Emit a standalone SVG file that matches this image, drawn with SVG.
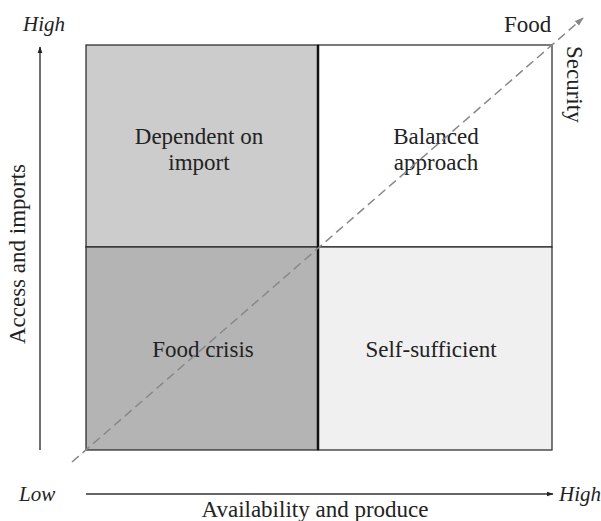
<svg xmlns="http://www.w3.org/2000/svg" width="601" height="521" viewBox="0 0 601 521">
<defs>
<style>
text{font-family:"Liberation Serif","Times New Roman",serif;fill:#222;}
.lbl{font-size:23px;text-anchor:middle;}
.ax{font-size:23px;}
.it{font-size:21px;font-style:italic;}
.cell{stroke:#222;stroke-width:1.2;}
.axis{stroke:#333;stroke-width:1.4;fill:none;}
</style>
<marker id="ah" viewBox="0 0 10 10" refX="9" refY="5" markerWidth="7" markerHeight="7" orient="auto" markerUnits="userSpaceOnUse"><path d="M0,1.5 L10,5 L0,8.5 Z" fill="#222"/></marker>
<marker id="ahg" viewBox="0 0 10 10" refX="9" refY="5" markerWidth="9" markerHeight="9" orient="auto" markerUnits="userSpaceOnUse"><path d="M0,1.5 L10,5 L0,8.5 Z" fill="#888"/></marker>
</defs>
<rect width="601" height="521" fill="#fff"/>
<g id="q-dependent"><rect class="cell" x="86" y="45" width="232" height="202" fill="#cccccc"/><text class="lbl" x="199" y="144">Dependent on</text><text class="lbl" x="199" y="170">import</text></g>
<g id="q-balanced"><rect class="cell" x="318" y="45" width="234" height="202" fill="#ffffff"/><text class="lbl" x="436" y="144">Balanced</text><text class="lbl" x="436" y="170">approach</text></g>
<g id="q-crisis"><rect class="cell" x="86" y="247" width="232" height="203" fill="#b4b4b4"/><text class="lbl" x="203" y="357">Food crisis</text></g>
<g id="q-self"><rect class="cell" x="318" y="247" width="234" height="203" fill="#f0f0f0"/><text class="lbl" x="431" y="357">Self-sufficient</text></g>
<g id="connectors">
<line x1="318" y1="45" x2="318" y2="450" stroke="#111" stroke-width="2.5"/>
<line x1="72" y1="462" x2="583" y2="18" stroke="#888" stroke-width="1.5" stroke-dasharray="9,5" marker-end="url(#ahg)"/>
<line class="axis" x1="40" y1="450" x2="40" y2="47" marker-end="url(#ah)"/>
<line class="axis" x1="86" y1="494" x2="553" y2="494" marker-end="url(#ah)"/>
</g>
<g id="labels">
<text class="it" x="23" y="31">High</text>
<text class="it" x="19" y="501">Low</text>
<text class="it" x="559" y="501">High</text>
<text class="ax" x="315" y="517" text-anchor="middle">Availability and produce</text>
<text class="ax" transform="translate(25,254) rotate(-90)" text-anchor="middle">Access and imports</text>
<text class="ax" x="504" y="32">Food</text>
<text class="ax" transform="translate(567,46) rotate(90)">Security</text>
</g>
</svg>
